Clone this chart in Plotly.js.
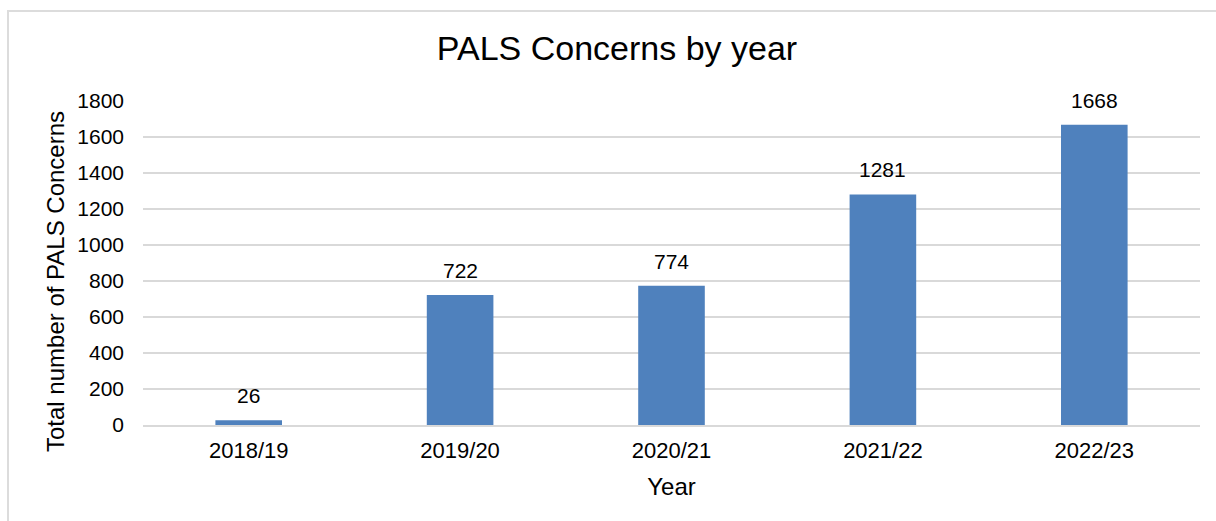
<!DOCTYPE html>
<html>
<head>
<meta charset="utf-8">
<script src="https://cdn.plot.ly/plotly-3.0.1.min.js"></script>
<style>
html,body{margin:0;padding:0;background:#fff;}
#wrap{position:relative;width:1216px;height:521px;overflow:hidden;}
#chart{width:1216px;height:521px;}
#frame{position:absolute;left:7px;top:10px;width:1300px;height:600px;border-left:2px solid #dcdcdc;border-top:2px solid #dcdcdc;pointer-events:none;}
</style>
</head>
<body>
<div id="wrap">
<div id="chart"></div>
<div id="frame"></div>
</div>
<script>
const categories = ["2018/19", "2019/20", "2020/21", "2021/22", "2022/23"];
const concerns = [26, 722, 774, 1281, 1668];
const yTicks = [0, 200, 400, 600, 800, 1000, 1200, 1400, 1600, 1800];

const FONT = "Liberation Sans, Arial, sans-serif";
const ML = 143, MR = 16, MT = 101, MB = 96, W = 1216, H = 521;
const PW = W - ML - MR, PH = H - MT - MB;
const px = x => (x - ML) / PW;
const py = y => (H - MB - y) / PH;

const trace = {
  type: "bar",
  x: categories,
  y: concerns,
  marker: {color: "#4F81BD"},
  hoverinfo: "x+y"
};

const labels = categories.map((c, i) => ({
  x: c, y: concerns[i], xref: "x", yref: "y",
  text: String(concerns[i]), showarrow: false,
  yanchor: "bottom", yshift: 11,
  font: {family: FONT, size: 21, color: "#000"}
}));

labels.push({
  xref: "paper", yref: "paper", x: px(55), y: py(281),
  text: "Total number of PALS Concerns", textangle: -90, showarrow: false,
  xanchor: "center", yanchor: "middle",
  font: {family: FONT, size: 24, color: "#000"}
});

const layout = {
  width: W, height: H,
  margin: {l: ML, r: MR, t: MT, b: MB, pad: 0},
  paper_bgcolor: "#fff", plot_bgcolor: "#fff",
  showlegend: false,
  bargap: 0.685,
  title: {
    text: "PALS Concerns by year",
    font: {family: FONT, size: 34, color: "#000"},
    x: px(617), xanchor: "center", xref: "paper",
    y: 1 - 48 / H, yanchor: "middle", yref: "container"
  },
  xaxis: {
    type: "category",
    showgrid: false, zeroline: false,
    showline: true, linecolor: "#d9d9d9", linewidth: 1.5,
    ticks: "", ticklabelstandoff: 5,
    tickfont: {family: FONT, size: 22, color: "#000"},
    title: {text: "Year", font: {family: FONT, size: 24, color: "#000"}, standoff: 16}
  },
  yaxis: {
    range: [0, 1800],
    tickvals: yTicks,
    ticktext: yTicks.map(String),
    showgrid: true, gridcolor: "#d9d9d9", gridwidth: 1.5,
    zeroline: false, showline: false,
    ticks: "", ticklabelstandoff: 18,
    tickfont: {family: FONT, size: 21, color: "#000"}
  },
  annotations: labels
};

Plotly.newPlot("chart", [trace], layout, {displayModeBar: false, responsive: false});
</script>
</body>
</html>
